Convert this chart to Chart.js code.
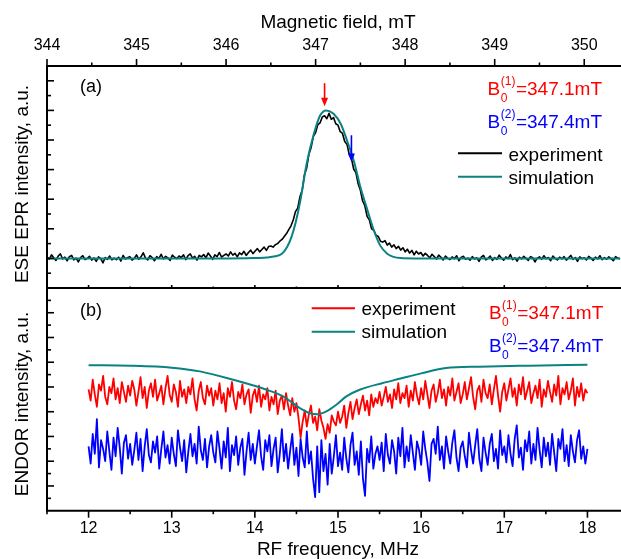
<!DOCTYPE html>
<html>
<head>
<meta charset="utf-8">
<script src="https://cdn.jsdelivr.net/npm/chart.js@4.4.1/dist/chart.umd.min.js"></script>
<style>
  html, body { margin: 0; padding: 0; background: #fff; overflow: hidden; }
  #wrap { position: relative; width: 621px; height: 559px; overflow: hidden; }
  canvas { position: absolute; left: 0; }
  #cEpr { top: 0; }
  #cEndor { top: 276px; }
</style>
</head>
<body>
<div id="wrap">
  <canvas id="cEpr" width="630" height="300"></canvas>
  <canvas id="cEndor" width="630" height="290"></canvas>
</div>
<script>
// ---------- (a) ESE-detected EPR spectrum ----------
const fieldStart = 344.0;   // mT, first sample of the field sweep
const fieldStep = 0.025;    // mT per sample
const eprExperiment = [
  1.05,0.97,1.12,1.02,0.93,1.08,1.15,0.98,1.04,0.92,
  1.06,1.10,0.95,1.01,0.88,1.03,1.09,0.96,1.00,1.07,
  0.94,1.02,0.90,1.05,0.99,0.85,1.03,0.97,1.08,0.95,
  1.01,0.96,1.04,0.91,1.10,0.98,1.02,1.06,0.94,1.00,
  1.12,0.97,1.05,1.19,1.01,0.95,1.09,1.03,0.92,1.06,
  1.00,1.14,0.98,1.07,1.02,0.93,1.11,1.04,0.99,1.08,
  1.03,1.12,0.96,1.09,1.15,1.01,1.07,0.94,1.10,1.05,
  1.13,1.02,1.18,1.08,0.97,1.12,1.06,1.20,1.04,1.10,
  1.15,1.08,1.22,1.11,1.17,1.05,1.19,1.13,1.24,1.10,
  1.20,1.28,1.16,1.25,1.33,1.22,1.30,1.38,1.27,1.40,
  1.42,1.38,1.46,1.50,1.58,1.64,1.74,1.84,1.97,2.10,
  2.30,2.58,2.70,3.08,3.30,3.82,4.05,4.52,4.75,5.12,
  5.25,5.52,5.58,5.78,5.82,5.72,5.90,5.70,5.76,5.55,
  5.50,5.28,5.22,4.95,4.86,4.52,4.38,4.02,3.90,3.52,
  3.30,2.94,2.78,2.42,2.30,2.00,1.95,1.78,1.74,1.58,
  1.55,1.60,1.45,1.52,1.38,1.46,1.33,1.41,1.28,1.36,
  1.22,1.31,1.18,1.27,1.12,1.24,1.15,1.20,1.08,1.17,
  1.10,1.02,1.14,1.06,0.98,1.11,1.04,0.95,1.08,1.01,
  0.96,1.05,0.99,1.09,0.92,1.03,1.07,0.97,1.01,0.94,
  1.06,0.98,1.02,0.90,1.04,1.10,0.95,1.00,1.08,0.93,
  1.03,0.97,1.11,1.01,0.94,1.05,0.99,1.13,0.96,1.02,
  0.91,1.04,0.98,1.07,1.00,0.93,1.06,1.02,0.88,1.01,
  1.05,0.97,1.09,0.99,1.03,0.92,1.08,1.00,0.95,1.04,
  0.98,1.06,0.94,1.02,1.10,0.97,1.03,0.90,1.05,0.99,
  1.02,0.95,1.07,1.01,0.93,1.04,0.98,1.09,0.96,1.03,
  0.97,1.05,0.99,0.92,1.06,1.01,0.98
];
const eprSimField = [344.0,345.0,346.0,346.3,346.45,346.55,346.62,346.68,346.73,346.78,
  346.83,346.9,346.98,347.05,347.12,347.2,347.28,347.35,347.43,347.5,
  347.58,347.65,347.72,347.8,347.87,347.95,348.1,349.0,350.4];
const eprSimulation = [1.0,1.0,1.0,1.01,1.03,1.07,1.15,1.38,1.72,2.25,
  2.96,4.2,5.2,5.83,6.0,5.89,5.55,4.99,4.26,3.41,
  2.62,1.95,1.44,1.16,1.05,1.01,1.0,1.0,1.0];

// Field positions at which the ENDOR spectra were recorded
const b0Fields = [347.1, 347.4];
const b0Colors = ['#ff0000', '#0000ff'];

// ---------- (b) ENDOR spectra ----------
const rfStart = 12.0;       // MHz
const rfStep = 0.025;       // MHz per sample
const endorB1 = [
  4.90,4.45,5.30,4.70,4.20,5.10,4.85,5.45,4.60,4.30,5.00,4.75,5.35,4.50,4.95,4.35,5.20,4.80,4.40,5.05,
  4.65,5.25,4.90,4.25,4.80,5.40,4.55,5.00,4.15,4.85,5.15,4.60,5.30,4.45,4.75,5.05,4.30,4.95,5.45,4.70,
  4.40,5.10,4.80,4.20,5.25,4.60,4.90,4.35,5.00,4.70,5.35,4.50,4.05,4.85,5.20,4.55,4.30,5.05,4.65,4.95,
  4.25,4.85,4.50,5.15,4.35,4.75,4.00,4.95,4.60,5.20,4.45,4.10,4.80,4.55,5.10,4.30,4.70,4.90,3.95,4.65,
  4.90,4.40,5.05,4.20,4.70,4.50,4.95,4.05,4.60,4.30,4.85,3.90,4.45,4.65,4.10,4.75,4.25,3.85,4.55,4.00,
  4.35,3.75,2.95,3.60,4.05,3.40,3.90,4.25,3.55,3.80,3.25,4.10,3.65,3.35,2.90,3.50,3.15,3.85,3.60,3.45,
  4.00,3.55,3.80,4.25,3.35,3.95,4.40,3.70,4.15,4.50,3.90,4.30,4.65,4.05,4.45,3.85,4.70,4.20,4.55,4.35,
  4.80,4.25,4.60,5.00,4.40,4.70,4.15,4.90,4.50,5.15,4.35,4.75,4.55,5.05,4.20,4.85,4.45,5.20,4.65,4.30,
  4.95,4.50,5.25,4.70,4.15,4.85,5.10,4.40,4.75,5.30,4.55,4.90,4.25,5.00,4.65,5.35,4.45,4.80,5.15,4.35,
  4.70,5.20,4.50,4.95,5.40,4.60,4.10,4.85,5.05,4.40,5.30,4.75,4.55,5.10,4.30,4.90,5.45,4.65,4.00,4.80,
  5.15,4.45,4.90,5.35,4.60,4.95,4.25,5.10,4.70,5.40,4.50,4.85,5.20,4.35,4.75,5.05,4.55,5.30,4.20,4.90,
  4.60,5.25,4.80,4.40,5.10,4.65,5.45,4.30,4.95,4.70,5.20,4.50,4.85,5.35,4.25,5.00,4.60,5.15,4.45,4.90,
  4.75
];
const endorB2 = [
  2.60,1.90,3.10,2.30,3.70,1.75,2.85,2.50,2.00,3.20,2.40,1.65,2.95,2.20,3.35,2.55,1.50,2.75,3.05,2.10,
  2.70,1.85,2.45,3.15,2.05,2.90,1.60,2.60,3.30,2.25,1.95,2.80,2.35,3.00,1.70,2.50,3.20,2.15,2.65,1.90,
  2.95,2.30,1.80,3.25,2.55,2.00,2.85,1.55,2.40,3.10,2.20,2.70,1.90,3.40,2.45,2.05,2.90,1.75,2.60,3.05,
  2.35,1.95,3.20,2.50,1.70,2.80,2.15,3.35,1.60,2.65,2.25,3.00,1.85,2.55,2.90,1.45,2.40,3.15,2.05,2.70,
  1.90,2.60,3.25,2.20,1.65,2.85,2.40,3.05,1.80,2.50,2.95,1.55,2.30,3.30,2.00,2.70,1.70,2.45,3.10,1.85,
  2.55,1.40,2.90,2.15,1.75,3.20,1.90,2.40,1.30,0.55,2.60,0.75,2.85,1.60,2.30,1.05,2.70,1.50,2.20,3.05,
  1.80,2.35,1.65,2.95,2.10,1.55,2.65,3.15,1.85,2.40,1.45,2.80,1.30,0.60,2.50,1.95,3.00,1.70,2.30,2.60,
  2.05,2.75,1.60,3.10,2.25,1.90,2.85,2.40,1.50,2.95,2.20,3.35,1.75,2.60,2.00,3.05,2.35,1.65,2.80,2.45,
  1.85,3.20,2.50,1.95,1.20,2.70,2.90,2.30,3.40,2.05,2.60,1.70,3.00,2.40,1.90,2.75,3.25,2.15,1.60,2.55,
  2.80,2.20,1.75,3.15,2.45,1.90,2.65,3.30,2.10,1.60,2.95,2.35,1.85,2.70,3.10,2.00,2.50,1.70,3.25,2.25,
  2.60,1.95,3.05,2.30,1.80,2.90,3.45,2.15,2.55,1.65,2.85,2.40,3.20,1.90,2.70,2.05,3.35,2.45,1.75,2.95,
  2.20,2.75,1.85,3.10,2.35,1.60,2.90,2.50,3.30,2.00,2.65,1.80,3.05,2.40,1.95,2.85,3.25,2.10,2.60,1.90,
  2.50
];
const endorSimRf = [12.0,12.5,13.0,13.34,13.74,14.14,14.34,14.54,14.66,14.76,14.86,
  14.98,15.10,15.26,15.54,15.74,16.0,16.3,16.7,17.3,18.0];
const endorSimulation = [5.88,5.86,5.78,5.63,5.29,4.89,4.62,4.15,3.94,3.90,4.01,
  4.28,4.62,4.89,5.16,5.33,5.55,5.77,5.82,5.86,5.90];

// ---------- axis ticks ----------
const fieldTickValues = [344, 345, 346, 347, 348, 349, 350];
const rfTickValues = [12, 13, 14, 15, 16, 17, 18];

// ---------- drawing ----------
const FONT = '"Liberation Sans", Arial, Helvetica, sans-serif';
Chart.defaults.font.family = FONT;
Chart.defaults.color = '#000';
const TEAL = '#0a8282';
const ENDOR_TOP = 276;   // vertical offset of the lower canvas

const sweep = (start, step, ys) => ys.map((y, i) => ({ x: +(start + i * step).toFixed(3), y }));
const pairs = (xs, ys) => xs.map((x, i) => ({ x, y: ys[i] }));

function line(ctx, x1, y1, x2, y2) {
  ctx.beginPath(); ctx.moveTo(x1, y1); ctx.lineTo(x2, y2); ctx.stroke();
}

function drawLeftTicks(ctx, area, ys) {
  ctx.lineWidth = 1.6;
  for (let v = ys.min + 0.5; v < ys.max; v += 0.5) {
    const py = ys.getPixelForValue(v);
    const len = Number.isInteger(v) ? 7 : 4;
    line(ctx, area.left, py, area.left + len, py);
  }
}

function drawB0(ctx, rightX, baseline, idx) {
  const color = b0Colors[idx];
  const rest = '=' + b0Fields[idx].toFixed(1) + 'mT';
  const sup = '(' + (idx + 1) + ')';
  ctx.font = '19px ' + FONT;
  const wB = ctx.measureText('B').width;
  const wRest = ctx.measureText(rest).width;
  ctx.font = '12px ' + FONT;
  const wSup = Math.max(ctx.measureText(sup).width, ctx.measureText('0').width);
  const x0 = rightX - (wB + wSup + 1 + wRest);
  ctx.fillStyle = color;
  ctx.textAlign = 'left';
  ctx.textBaseline = 'alphabetic';
  ctx.font = '19px ' + FONT;
  ctx.fillText('B', x0, baseline);
  ctx.fillText(rest, x0 + wB + wSup + 1, baseline);
  ctx.font = '12px ' + FONT;
  ctx.fillText(sup, x0 + wB + 0.5, baseline - 10);
  ctx.fillText('0', x0 + wB + 0.5, baseline + 7);
}

function drawLegendEntry(ctx, x1, x2, y, color, text, baseline) {
  ctx.strokeStyle = color;
  ctx.lineWidth = 2;
  line(ctx, x1, y, x2, y);
  ctx.fillStyle = '#000';
  ctx.font = '19px ' + FONT;
  ctx.textAlign = 'left';
  ctx.textBaseline = 'alphabetic';
  ctx.fillText(text, x2 + 6.5, baseline);
}

function drawArrow(ctx, xs, ys, field, yFrom, yTo, color) {
  const px = xs.getPixelForValue(field);
  const top = ys.getPixelForValue(yFrom);
  const tip = ys.getPixelForValue(yTo);
  ctx.strokeStyle = color; ctx.fillStyle = color; ctx.lineWidth = 1.6;
  line(ctx, px, top, px, tip - 6);
  ctx.beginPath();
  ctx.moveTo(px - 3.5, tip - 8.5);
  ctx.lineTo(px + 3.5, tip - 8.5);
  ctx.lineTo(px, tip);
  ctx.closePath();
  ctx.fill();
}

function verticalTitle(ctx, text, baselineX, centerY) {
  ctx.save();
  ctx.translate(baselineX, centerY);
  ctx.rotate(-Math.PI / 2);
  ctx.fillStyle = '#000';
  ctx.font = '19px ' + FONT;
  ctx.textAlign = 'center';
  ctx.textBaseline = 'alphabetic';
  ctx.fillText(text, 0, 0);
  ctx.restore();
}

const eprDecor = {
  id: 'eprDecor',
  afterDraw(chart) {
    const { ctx, chartArea: a, scales: { x: xs, y: ys } } = chart;
    ctx.save();
    ctx.strokeStyle = '#000';
    ctx.lineWidth = 2;
    ctx.beginPath();
    ctx.moveTo(a.left, a.bottom); ctx.lineTo(a.left, a.top); ctx.lineTo(a.right, a.top);
    ctx.moveTo(a.left, a.bottom); ctx.lineTo(a.right, a.bottom);
    ctx.stroke();
    ctx.lineWidth = 1.6;
    for (let v = xs.min; v <= xs.max; v += 0.5) {
      const px = xs.getPixelForValue(v);
      line(ctx, px, a.top, px, a.top - (Number.isInteger(v) ? 7 : 3.5));
    }
    drawLeftTicks(ctx, a, ys);

    drawArrow(ctx, xs, ys, b0Fields[0], 6.92, 6.14, b0Colors[0]);
    drawArrow(ctx, xs, ys, b0Fields[1], 5.16, 4.26, b0Colors[1]);

    ctx.fillStyle = '#000';
    ctx.font = '18px ' + FONT;
    ctx.textAlign = 'left';
    ctx.textBaseline = 'alphabetic';
    ctx.fillText('(a)', 80, 92);

    drawB0(ctx, 602, 95, 0);
    drawB0(ctx, 602, 128, 1);
    drawLegendEntry(ctx, 458, 502, 153.3, '#000', 'experiment', 160.5);
    drawLegendEntry(ctx, 458, 502, 176.7, TEAL, 'simulation', 183.5);

    verticalTitle(ctx, 'ESE EPR intensity, a.u.', 28, 184);
    ctx.restore();
  }
};

const endorDecor = {
  id: 'endorDecor',
  afterDraw(chart) {
    const { ctx, chartArea: a, scales: { x: xs, y: ys } } = chart;
    const o = ENDOR_TOP;
    ctx.save();
    ctx.strokeStyle = '#000';
    ctx.lineWidth = 2;
    ctx.beginPath();
    ctx.moveTo(a.left, a.top); ctx.lineTo(a.left, a.bottom); ctx.lineTo(a.right, a.bottom);
    ctx.stroke();
    ctx.lineWidth = 1.6;
    for (let v = xs.min; v <= xs.max; v += 0.5) {
      const px = xs.getPixelForValue(v);
      const major = Number.isInteger(v);
      line(ctx, px, a.bottom, px, a.bottom + (major ? 7 : 3.5));
      line(ctx, px, a.top, px, a.top - (major ? 3 : 1.5));
    }
    drawLeftTicks(ctx, a, ys);

    ctx.fillStyle = '#000';
    ctx.font = '18px ' + FONT;
    ctx.textAlign = 'left';
    ctx.textBaseline = 'alphabetic';
    ctx.fillText('(b)', 80, 316.4 - o);

    drawLegendEntry(ctx, 311.7, 355, 308.3 - o, b0Colors[0], 'experiment', 315 - o);
    drawLegendEntry(ctx, 311.7, 355, 331.7 - o, TEAL, 'simulation', 338.3 - o);
    drawB0(ctx, 603.3, 318.5 - o, 0);
    drawB0(ctx, 603.3, 351.8 - o, 1);

    verticalTitle(ctx, 'ENDOR intensity, a.u.', 28, 404 - o);
    ctx.restore();
  }
};

const tickFont = { size: 16 };
const titleFont = { size: 19 };

new Chart(document.getElementById('cEpr'), {
  type: 'line',
  data: {
    datasets: [
      { label: 'simulation', data: pairs(eprSimField, eprSimulation), borderColor: TEAL,
        borderWidth: 2, pointRadius: 0, cubicInterpolationMode: 'monotone' },
      { label: 'experiment', data: sweep(fieldStart, fieldStep, eprExperiment), borderColor: '#000',
        borderWidth: 1.6, pointRadius: 0, tension: 0, borderJoinStyle: 'round' }
    ]
  },
  options: {
    responsive: false, animation: false, devicePixelRatio: 1,
    layout: { padding: { left: 47, right: 1, top: 0, bottom: 12 } },
    plugins: { legend: { display: false }, tooltip: { enabled: false } },
    scales: {
      x: {
        type: 'linear', position: 'top', min: 344, max: 350.5,
        afterBuildTicks: s => { s.ticks = fieldTickValues.map(v => ({ value: v })); },
        afterFit: s => { s.height = 66; },
        grid: { display: false, drawTicks: false }, border: { display: false },
        ticks: { font: tickFont, padding: 11, color: '#000', maxRotation: 0, autoSkip: false },
        title: { display: true, text: 'Magnetic field, mT', font: titleFont, color: '#000',
                 padding: { top: 11, bottom: 0 } }
      },
      y: { type: 'linear', display: false, min: 0, max: 7.5 }
    }
  },
  plugins: [eprDecor]
});

new Chart(document.getElementById('cEndor'), {
  type: 'line',
  data: {
    datasets: [
      { label: 'simulation', data: pairs(endorSimRf, endorSimulation), borderColor: TEAL,
        borderWidth: 2, pointRadius: 0, cubicInterpolationMode: 'monotone' },
      { label: 'B0(1)', data: sweep(rfStart, rfStep, endorB1), borderColor: b0Colors[0],
        borderWidth: 1.8, pointRadius: 0, tension: 0, borderJoinStyle: 'round' },
      { label: 'B0(2)', data: sweep(rfStart, rfStep, endorB2), borderColor: b0Colors[1],
        borderWidth: 1.8, pointRadius: 0, tension: 0, borderJoinStyle: 'round' }
    ]
  },
  options: {
    responsive: false, animation: false, devicePixelRatio: 1,
    layout: { padding: { left: 47, right: 1, top: 12, bottom: 0 } },
    plugins: { legend: { display: false }, tooltip: { enabled: false } },
    scales: {
      x: {
        type: 'linear', position: 'bottom', min: 11.5, max: 18.5,
        afterBuildTicks: s => { s.ticks = rfTickValues.map(v => ({ value: v })); },
        afterFit: s => { s.height = 55.3; },
        grid: { display: false, drawTicks: false }, border: { display: false },
        ticks: { font: tickFont, padding: 8.7, color: '#000', maxRotation: 0, autoSkip: false },
        title: { display: true, text: 'RF frequency, MHz', font: titleFont, color: '#000',
                 padding: { top: 0, bottom: 5 } }
      },
      y: { type: 'linear', display: false, min: 0, max: 9 }
    }
  },
  plugins: [endorDecor]
});
</script>
</body>
</html>
